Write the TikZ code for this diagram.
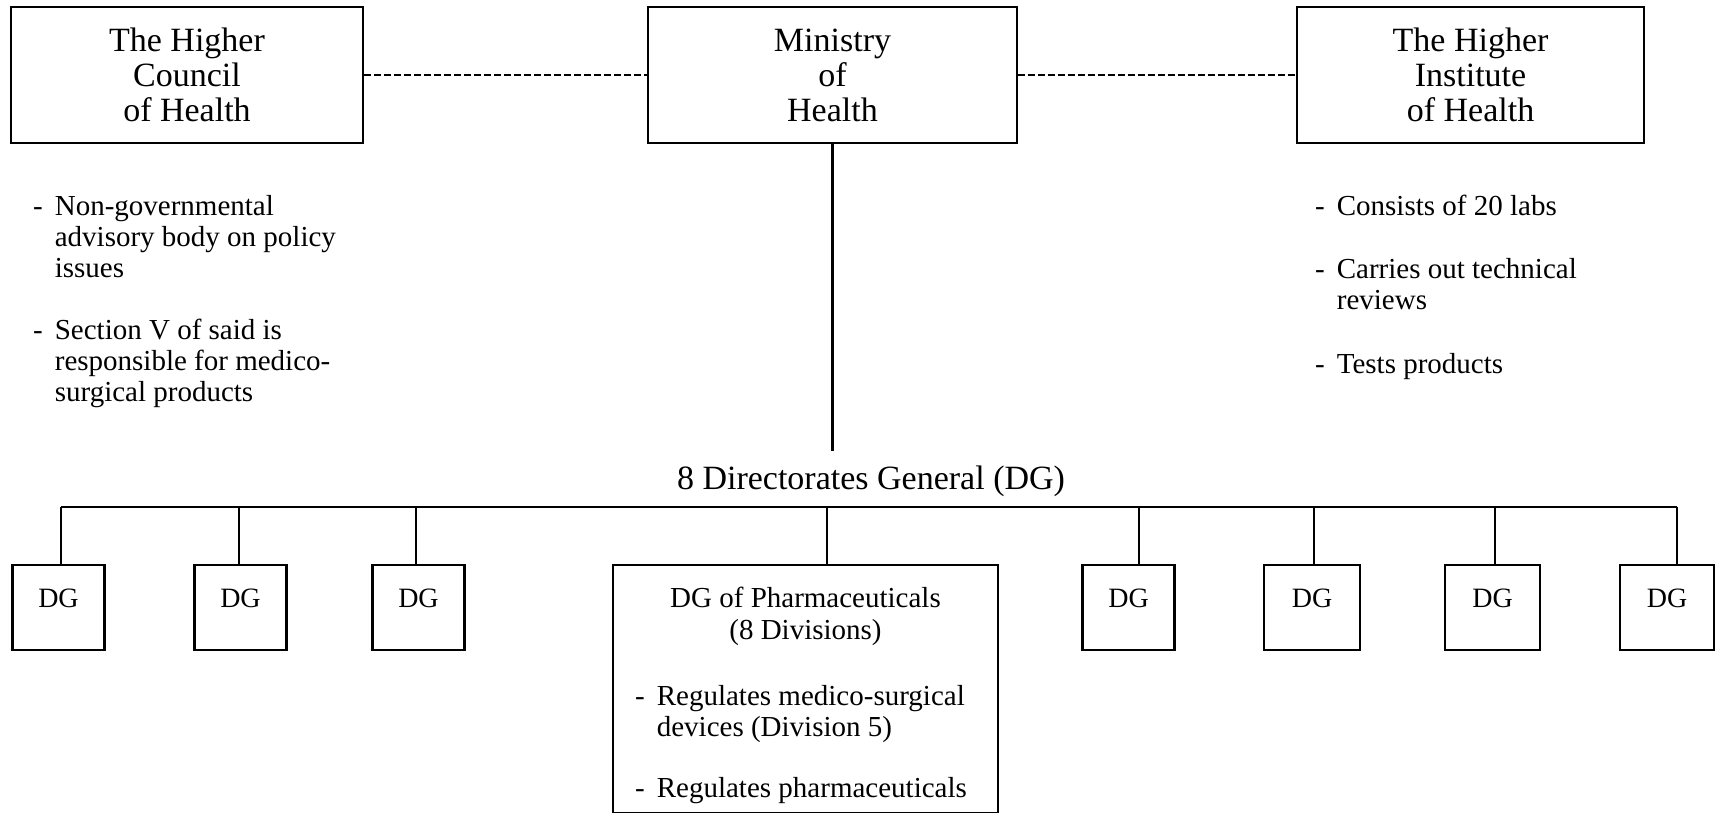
\documentclass[tikz,border=0pt]{standalone}
\usepackage{fontspec}
\setmainfont{Liberation Serif}
\begin{document}
\begin{tikzpicture}[x=1pt,y=-1pt,
  orgbox/.style={draw, line width=2.8pt, inner sep=0pt, align=center},
  titlefont/.style={font=\fontsize{34}{35}\selectfont},
  notefont/.style={font=\fontsize{29}{31}\selectfont},
  dgbox/.style={orgbox, minimum width=92pt, minimum height=85pt, text depth=18pt,
    font=\fontsize{28}{30}\selectfont},
  link/.style={line width=2.2pt},
  dashlink/.style={line width=2pt, dash pattern=on 7pt off 3pt},
  note/.style={notefont, anchor=base west, inner sep=0pt}
]
\useasboundingbox (0,0) rectangle (1716,812);

% top level bodies
\node[orgbox, titlefont, minimum width=352pt, minimum height=136pt] (hch) at (187,75)
  {The Higher\\Council\\of Health};
\node[orgbox, titlefont, minimum width=369pt, minimum height=136pt] (moh) at (832.5,75)
  {Ministry\\of\\Health};
\node[orgbox, titlefont, minimum width=347pt, minimum height=136pt] (hih) at (1470.5,75)
  {The Higher\\Institute\\of Health};

% advisory links
\draw[dashlink] (hch.east |- 0,75) -- (moh.west |- 0,75);
\draw[dashlink] (moh.east |- 0,75) -- (hih.west |- 0,75);

% notes under the council and the institute
\node[note] (hchn1) at (33,215) {\begin{tabular}[t]{@{}l@{\hspace{12pt}}l@{}}-&Non-governmental\\&advisory body on policy\\&issues\end{tabular}};
\node[note] (hchn2) at (33,339) {\begin{tabular}[t]{@{}l@{\hspace{12pt}}l@{}}-&Section V of said is\\&responsible for medico-\\&surgical products\end{tabular}};
\node[note] (hihn1) at (1315,215) {\begin{tabular}[t]{@{}l@{\hspace{12pt}}l@{}}-&Consists of 20 labs\end{tabular}};
\node[note] (hihn2) at (1315,278) {\begin{tabular}[t]{@{}l@{\hspace{12pt}}l@{}}-&Carries out technical\\&reviews\end{tabular}};
\node[note] (hihn3) at (1315,373) {\begin{tabular}[t]{@{}l@{\hspace{12pt}}l@{}}-&Tests products\end{tabular}};

% ministry to directorates
\coordinate (mend) at (832.5,451);
\draw[link] (moh.south) -- (mend);
\node[font=\fontsize{34}{36}\selectfont, inner sep=0pt] (dglabel) at (871,481) {8 Directorates General (DG)};

% directorates
\node[dgbox] (dg1) at (58.5,607.5) {DG};
\node[dgbox] (dg2) at (240.5,607.5) {DG};
\node[dgbox] (dg3) at (418.5,607.5) {DG};
\node[orgbox, minimum width=385pt, minimum height=248pt] (dgp) at (805.5,689) {};
\node[dgbox] (dg5) at (1128.5,607.5) {DG};
\node[dgbox, minimum width=96pt] (dg6) at (1312,607.5) {DG};
\node[dgbox, minimum width=95pt] (dg7) at (1492.5,607.5) {DG};
\node[dgbox, minimum width=94pt] (dg8) at (1667,607.5) {DG};

% text of the pharmaceuticals directorate
\node[notefont, anchor=base, inner sep=0pt] (dgpt1) at (dgp.north |- 0,607) {DG of Pharmaceuticals};
\node[notefont, anchor=base, inner sep=0pt] (dgpt2) at (dgp.north |- 0,639) {(8 Divisions)};
\node[note] (dgpn1) at (635,705) {\begin{tabular}[t]{@{}l@{\hspace{12pt}}l@{}}-&Regulates medico-surgical\\&devices (Division 5)\end{tabular}};
\node[note] (dgpn2) at (635,797) {\begin{tabular}[t]{@{}l@{\hspace{12pt}}l@{}}-&Regulates pharmaceuticals\end{tabular}};

% distribution bar and drops
\coordinate (t1) at (61,507);
\coordinate (t2) at (239,507);
\coordinate (t3) at (416,507);
\coordinate (t4) at (827,507);
\coordinate (t5) at (1139,507);
\coordinate (t6) at (1314,507);
\coordinate (t7) at (1495,507);
\coordinate (t8) at (1677,507);
\draw[link] (t1) -- (t8);
\draw[link] (t1) -- (t1 |- dg1.north);
\draw[link] (t2) -- (t2 |- dg2.north);
\draw[link] (t3) -- (t3 |- dg3.north);
\draw[link] (t4) -- (t4 |- dgp.north);
\draw[link] (t5) -- (t5 |- dg5.north);
\draw[link] (t6) -- (t6 |- dg6.north);
\draw[link] (t7) -- (t7 |- dg7.north);
\draw[link] (t8) -- (t8 |- dg8.north);
\end{tikzpicture}
\end{document}
